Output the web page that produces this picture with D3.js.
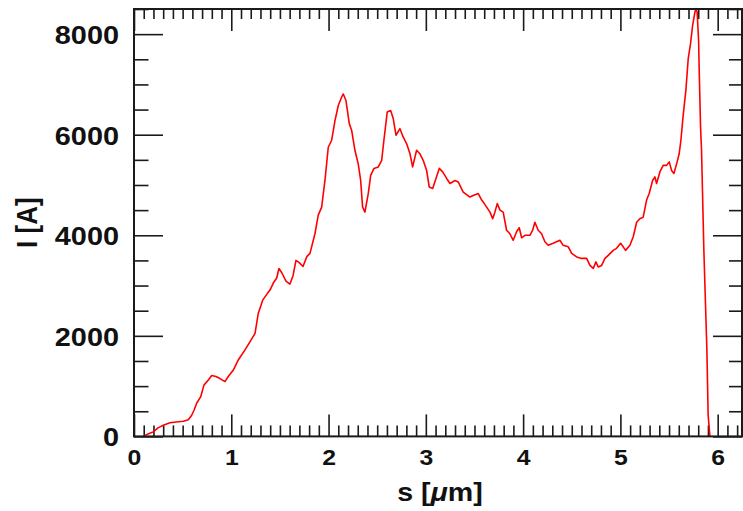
<!DOCTYPE html>
<html>
<head>
<meta charset="utf-8">
<script src="https://cdn.jsdelivr.net/npm/d3@7"></script>
<style>
  html, body { margin: 0; padding: 0; background: #fff; }
  svg { display: block; }
  text { font-family: "Liberation Sans", Arial, Helvetica, sans-serif; font-weight: bold; fill: #111; }
</style>
</head>
<body>
<svg id="chart" width="743" height="511"></svg>
<script>
// Current profile I(s) along the bunch
const sValues = [
  0.098, 0.144, 0.198, 0.247, 0.301, 0.370, 0.455, 0.507, 0.558, 0.593,
  0.617, 0.644, 0.686, 0.719, 0.764, 0.799, 0.843, 0.884, 0.935, 0.969,
  1.021, 1.072, 1.141, 1.192, 1.244, 1.278, 1.323, 1.370, 1.398, 1.432,
  1.467, 1.490, 1.521, 1.562, 1.603, 1.634, 1.665, 1.696, 1.737, 1.778,
  1.809, 1.860, 1.894, 1.929, 1.963, 1.997, 2.032, 2.066, 2.100, 2.135,
  2.151, 2.179, 2.213, 2.237, 2.271, 2.305, 2.330, 2.350, 2.374, 2.408,
  2.433, 2.467, 2.511, 2.546, 2.569, 2.603, 2.638, 2.665, 2.693, 2.734,
  2.768, 2.803, 2.837, 2.864, 2.905, 2.939, 2.973, 3.008, 3.035, 3.070,
  3.104, 3.138, 3.173, 3.214, 3.248, 3.299, 3.333, 3.384, 3.453, 3.487,
  3.539, 3.574, 3.597, 3.625, 3.659, 3.687, 3.710, 3.734, 3.762, 3.795,
  3.830, 3.864, 3.898, 3.933, 3.960, 3.985, 4.018, 4.070, 4.098, 4.121,
  4.155, 4.190, 4.224, 4.258, 4.309, 4.378, 4.412, 4.464, 4.499, 4.550,
  4.601, 4.653, 4.687, 4.721, 4.748, 4.772, 4.807, 4.841, 4.875, 4.926,
  4.961, 5.002, 5.029, 5.053, 5.098, 5.132, 5.167, 5.200, 5.234, 5.252,
  5.269, 5.296, 5.331, 5.355, 5.372, 5.406, 5.440, 5.475, 5.502, 5.526,
  5.550, 5.578, 5.604, 5.622, 5.645, 5.673, 5.697, 5.721, 5.742, 5.766,
  5.776, 5.789, 5.804, 5.810, 5.824, 5.834, 5.858, 5.889, 5.902, 5.920
];
const currentValues = [
  0, 50, 90, 170, 220, 270, 290, 300, 330, 420,
  520, 660, 790, 1020, 1120, 1210, 1190, 1150, 1090, 1190,
  1320, 1520, 1720, 1880, 2050, 2450, 2710, 2840, 2910, 3050,
  3150, 3340, 3250, 3090, 3030, 3190, 3500, 3460, 3380, 3580,
  3640, 4030, 4400, 4560, 5090, 5750, 5890, 6280, 6580, 6750,
  6810, 6680, 6220, 6090, 5690, 5420, 5090, 4560, 4460, 4830,
  5190, 5330, 5360, 5490, 5890, 6450, 6480, 6320, 5990, 6120,
  5950, 5820, 5620, 5360, 5690, 5620, 5490, 5290, 4960, 4930,
  5130, 5330, 5260, 5130, 5030, 5090, 5060, 4860, 4760, 4790,
  4830, 4700, 4640, 4560, 4460, 4330, 4460, 4630, 4500, 4460,
  4100, 4030, 3900, 4070, 4150, 3950, 4000, 4000, 4100, 4260,
  4100, 4030, 3870, 3800, 3840, 3900, 3800, 3770, 3640, 3570,
  3540, 3540, 3400, 3340, 3470, 3370, 3400, 3540, 3600, 3700,
  3740, 3840, 3770, 3700, 3800, 3970, 4260, 4330, 4360, 4530,
  4700, 4830, 5090, 5160, 5030, 5260, 5390, 5390, 5460, 5290,
  5230, 5420, 5620, 5890, 6380, 6880, 7510, 7810, 8170, 8440,
  8500, 8440, 7870, 7280, 6150, 5690, 3700, 1720, 420, 0
];

const xMajorTicks = [0, 1, 2, 3, 4, 5, 6];
const yMajorTicks = [0, 2000, 4000, 6000, 8000];
const xTitle = "s [", xTitleMu = "\u03bc", xTitleEnd = "m]";
const yTitle = "I [A]";

const svg = d3.select("#chart");
const plotLeft = 134, plotRight = 742, plotTop = 9, plotBottom = 436.4;

const x = d3.scaleLinear().domain([0, 6.25]).range([plotLeft, plotRight]);
const y = d3.scaleLinear().domain([0, 8500]).range([plotBottom, plotTop]);

const xMinorTicks = d3.range(0, 63).filter(i => i % 10 !== 0).map(i => i / 10);
const yMinorTicks = d3.range(1, 18).filter(i => i % 4 !== 0).map(i => i * 500);

const axisColor = "#1a1a1a";

function styleAxis(g) {
  g.select(".domain").remove();
  g.selectAll(".tick line").attr("stroke", axisColor).attr("stroke-width", 1.6);
}

// Bottom axis: major ticks with labels, minor ticks without
const gxMajor = svg.append("g").attr("transform", `translate(0,${plotBottom})`)
  .call(d3.axisBottom(x).tickValues(xMajorTicks).tickSize(-22).tickPadding(12.6).tickFormat(d3.format("d")));
styleAxis(gxMajor);
gxMajor.selectAll(".tick text")
  .attr("font-size", 22.5).attr("fill", "#111")
  .attr("transform", "scale(1.1,1)");
svg.append("g").attr("transform", `translate(0,${plotBottom})`)
  .call(d3.axisBottom(x).tickValues(xMinorTicks).tickSize(-11).tickFormat(""))
  .call(styleAxis);

// Top axis (ticks only)
svg.append("g").attr("transform", `translate(0,${plotTop})`)
  .call(d3.axisTop(x).tickValues(xMajorTicks).tickSize(-22).tickFormat(""))
  .call(styleAxis);
svg.append("g").attr("transform", `translate(0,${plotTop})`)
  .call(d3.axisTop(x).tickValues(xMinorTicks).tickSize(-10).tickFormat(""))
  .call(styleAxis);

// Left axis
const gyMajor = svg.append("g").attr("transform", `translate(${plotLeft},0)`)
  .call(d3.axisLeft(y).tickValues(yMajorTicks).tickSize(-29).tickFormat(d3.format("d")));
styleAxis(gyMajor);
gyMajor.selectAll(".tick text")
  .attr("font-size", 26.5).attr("fill", "#111")
  .attr("x", 0).attr("dy", "0.36em")
  .attr("transform", "translate(-15,0) scale(1.09,1)");
svg.append("g").attr("transform", `translate(${plotLeft},0)`)
  .call(d3.axisLeft(y).tickValues(yMinorTicks).tickSize(-14.5).tickFormat(""))
  .call(styleAxis);

// Right axis (ticks only)
svg.append("g").attr("transform", `translate(${plotRight},0)`)
  .call(d3.axisRight(y).tickValues(yMajorTicks).tickSize(-29).tickFormat(""))
  .call(styleAxis);
svg.append("g").attr("transform", `translate(${plotRight},0)`)
  .call(d3.axisRight(y).tickValues(yMinorTicks).tickSize(-13).tickFormat(""))
  .call(styleAxis);

// Curve, clipped to the frame
svg.append("clipPath").attr("id", "plotClip")
  .append("rect").attr("x", plotLeft).attr("y", plotTop)
  .attr("width", plotRight - plotLeft).attr("height", plotBottom - plotTop);

const points = sValues.map((s, i) => [s, currentValues[i]]);
const line = d3.line().x(d => x(d[0])).y(d => y(d[1]));
svg.append("path")
  .datum(points)
  .attr("clip-path", "url(#plotClip)")
  .attr("fill", "none")
  .attr("stroke", "#ff0000")
  .attr("stroke-width", 1.6)
  .attr("stroke-linejoin", "round")
  .attr("d", line);

// Frame
svg.append("rect")
  .attr("x", plotLeft).attr("y", plotTop)
  .attr("width", plotRight - plotLeft).attr("height", plotBottom - plotTop)
  .attr("fill", "none").attr("stroke", axisColor).attr("stroke-width", 2);

// Axis titles
const xt = svg.append("text")
  .attr("transform", `translate(${(plotLeft + plotRight) / 2 + 2},501) scale(1.1,1)`)
  .attr("text-anchor", "middle")
  .attr("font-size", 26);
xt.append("tspan").text(xTitle);
xt.append("tspan").attr("font-style", "italic").text(xTitleMu);
xt.append("tspan").text(xTitleEnd);

svg.append("text")
  .attr("transform", `translate(37,${(plotTop + plotBottom) / 2}) scale(1.1,1) rotate(-90)`)
  .attr("text-anchor", "middle")
  .attr("font-size", 26)
  .text(yTitle);
</script>
</body>
</html>
